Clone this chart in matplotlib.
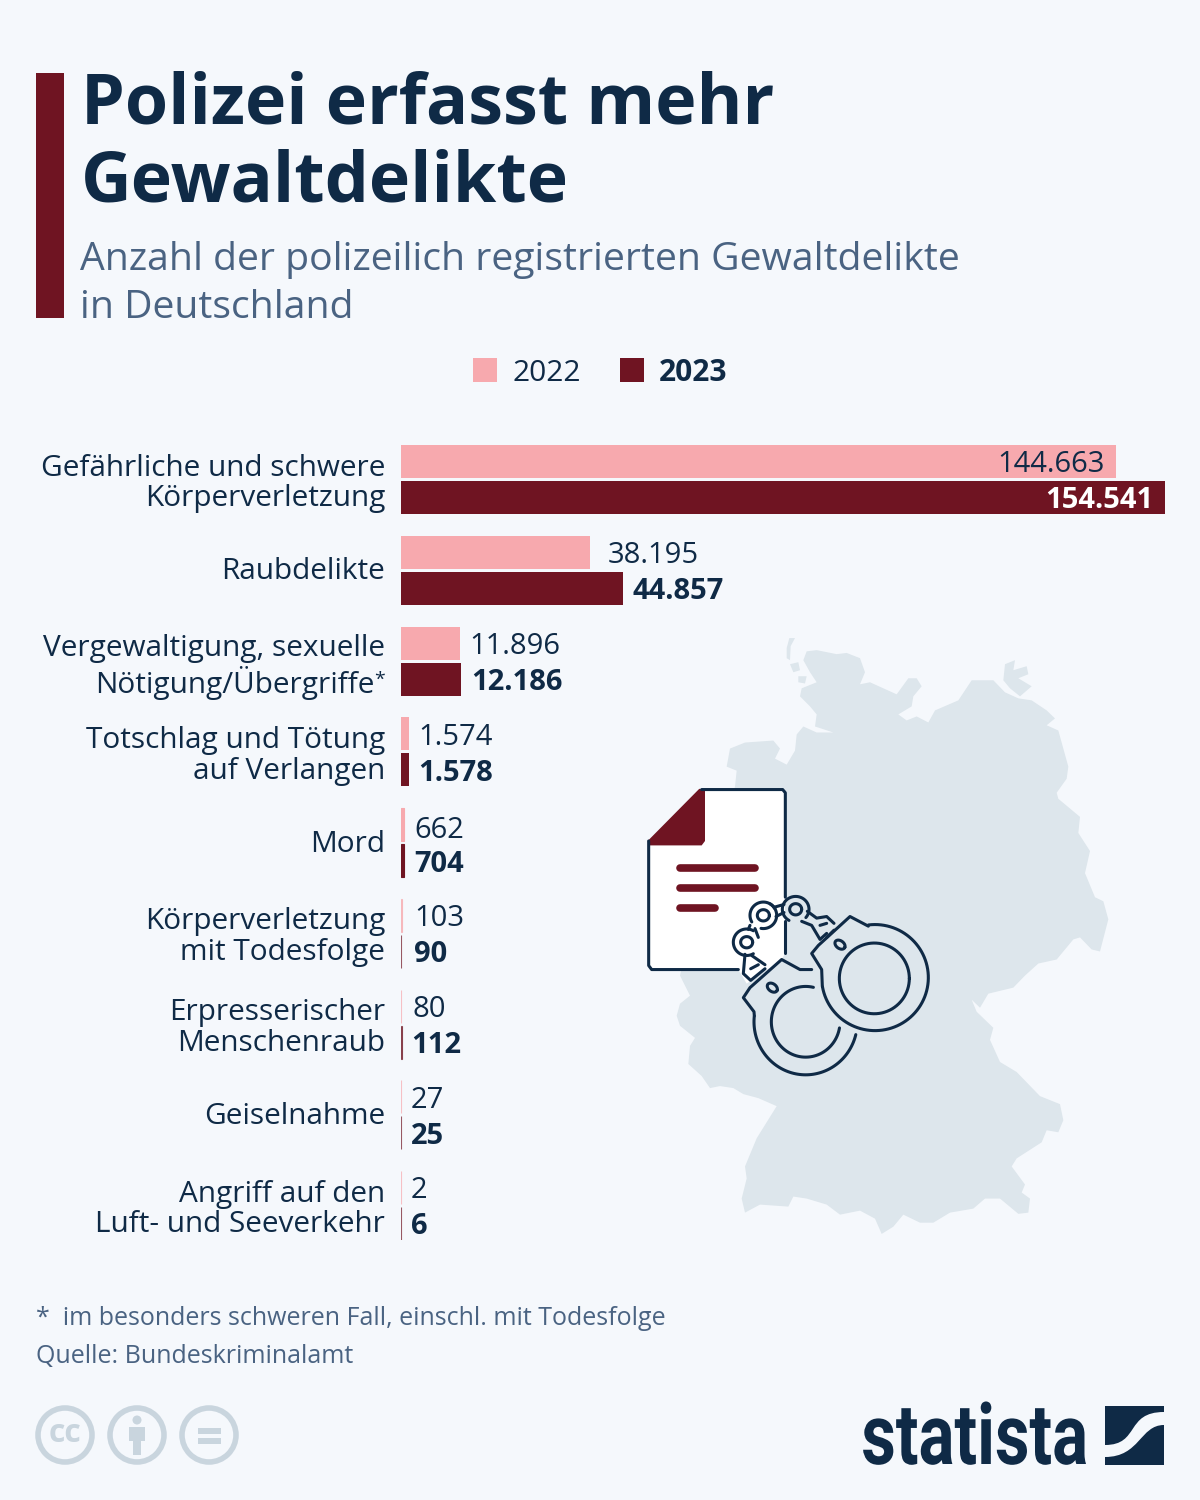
import numpy as np
import matplotlib
matplotlib.use('Agg')
import matplotlib.pyplot as plt
from matplotlib.patches import Rectangle, Circle, Polygon, PathPatch
from matplotlib.patheffects import AbstractPathEffect
from matplotlib.path import Path
from matplotlib.transforms import Affine2D

categories = ['Gefährliche und schwere\nKörperverletzung', 'Raubdelikte',
              'Vergewaltigung, sexuelle\nNötigung/Übergriffe*',
              'Totschlag und Tötung\nauf Verlangen', 'Mord',
              'Körperverletzung\nmit Todesfolge', 'Erpresserischer\nMenschenraub',
              'Geiselnahme', 'Angriff auf den\nLuft- und Seeverkehr']
values_2022 = [144663, 38195, 11896, 1574, 662, 103, 80, 27, 2]
values_2023 = [154541, 44857, 12186, 1578, 704, 90, 112, 25, 6]

NAVY = '#0f2a46'
DARK = '#6f1422'
PINK = '#f7a9ae'
BG = '#f5f8fc'
MAP = '#dde6ec'
GREY = '#c9d5de'
SUB = '#4a6382'

plt.rcParams['font.family'] = ['Open Sans', 'DejaVu Sans']


def fmt(v):
    return f'{v:,}'.replace(',', '.')


class SqueezeX(AbstractPathEffect):
    # the logo lettering is condensed, no condensed font here
    def __init__(self, sx, x0):
        super().__init__()
        self.sx = sx
        self.x0 = x0

    def draw_path(self, renderer, gc, tpath, affine, rgbFace=None):
        t = Affine2D().translate(-self.x0, 0).scale(self.sx, 1).translate(self.x0, 0)
        renderer.draw_path(gc, tpath, affine + t, rgbFace)


fig = plt.figure(figsize=(12, 15), dpi=100, facecolor=BG)

# page axes in pixels
page = fig.add_axes([0, 0, 1, 1])
page.set_xlim(0, 1200)
page.set_ylim(1500, 0)
page.axis('off')

page.add_patch(Rectangle((36, 73), 28, 245, color=DARK, lw=0))
page.text(81, 124, 'Polizei erfasst mehr', fontsize=50.4, fontweight='bold', color=NAVY)
page.text(81, 202, 'Gewaltdelikte', fontsize=50.4, fontweight='bold', color=NAVY)
page.text(80, 270, 'Anzahl der polizeilich registrierten Gewaltdelikte', fontsize=28.2, color=SUB)
page.text(80, 318, 'in Deutschland', fontsize=28.2, color=SUB)

page.add_patch(Rectangle((473, 358), 24, 24, color=PINK, lw=0))
page.add_patch(Rectangle((620, 358), 24, 24, color=DARK, lw=0))
page.text(512, 381, '2022', fontsize=21.5, color=NAVY)
page.text(659, 381, '2023', fontsize=21.5, fontweight='bold', color=NAVY)

page.text(36, 1325, '*  im besonders schweren Fall, einschl. mit Todesfolge', fontsize=18, color=SUB)
page.text(36, 1363, 'Quelle: Bundeskriminalamt', fontsize=18, color=SUB)

# licence icons
for cx in [65, 137, 209]:
    page.add_patch(Circle((cx, 1435), 27, fc='none', ec=GREY, lw=4))
page.text(65, 1434, 'cc', fontsize=23, fontweight='bold', color=GREY, ha='center', va='center')
page.add_patch(Circle((137, 1420), 4.5, color=GREY, lw=0))
page.add_patch(Rectangle((129, 1427), 16, 14, color=GREY, lw=0))
page.add_patch(Rectangle((133, 1441), 8, 14, color=GREY, lw=0))
page.add_patch(Rectangle((198, 1428), 23, 6, color=GREY, lw=0))
page.add_patch(Rectangle((198, 1438), 23, 6, color=GREY, lw=0))

# logo
page.text(1088, 1464, 'statista', fontsize=61, fontweight='bold', color=NAVY, ha='right',
          family=['Roboto'], path_effects=[SqueezeX(0.792, 1088)])
page.add_patch(Rectangle((1105, 1406), 59, 59, color=NAVY, lw=0))
swoosh = Path([(1105, 1445), (1140, 1445), (1125, 1412), (1164, 1412), (1164, 1425),
               (1140, 1425), (1140, 1457), (1105, 1457), (1105, 1445)],
              [Path.MOVETO, Path.CURVE4, Path.CURVE4, Path.CURVE4, Path.LINETO,
               Path.CURVE4, Path.CURVE4, Path.CURVE4, Path.CLOSEPOLY])
page.add_patch(PathPatch(swoosh, fc=BG, ec='none'))

deco = fig.add_axes([630 / 1200, 1 - 1250 / 1500, 500 / 1200, 630 / 1500])
deco.set_xlim(0, 1500)
deco.set_ylim(1568, 0)
deco.axis('off')

germany = [(530, 78), (560, 75), (620, 85), (650, 82), (690, 95), (705, 130),
           (690, 160), (720, 155), (760, 170), (800, 185), (835, 145), (860, 145), (875, 165), (850, 190),
           (845, 215), (805, 235), (830, 250), (860, 240), (895, 255), (915, 225), (985, 200),
           (1025, 150), (1090, 150), (1125, 180), (1165, 195), (1205, 200), (1250, 225), (1275, 245),
           (1250, 262), (1285, 275), (1315, 365), (1310, 395),
           (1280, 430), (1285, 445), (1350, 490), (1345, 530), (1380, 575), (1365, 630), (1395, 690),
           (1420, 700), (1435, 745), (1410, 825), (1385, 820), (1350, 790), (1330, 795), (1280, 845),
           (1225, 855), (1185, 885), (1150, 915), (1075, 930), (1050, 965), (1025, 945), (1040, 975),
           (1090, 1015), (1080, 1045), (1110, 1100), (1160, 1125), (1230, 1185), (1290, 1205),
           (1300, 1245), (1285, 1275), (1250, 1270), (1235, 1300), (1160, 1340), (1145, 1360),
           (1185, 1405), (1175, 1425), (1200, 1440), (1195, 1475), (1165, 1478), (1110, 1440),
           (1065, 1440), (1030, 1465), (960, 1475), (910, 1500), (870, 1500), (820, 1480), (790, 1510),
           (755, 1528), (735, 1490), (690, 1470), (630, 1480), (590, 1455), (530, 1440), (490, 1435),
           (475, 1460), (390, 1455), (345, 1475), (335, 1440), (350, 1390), (345, 1360), (380, 1290),
           (440, 1210), (385, 1190), (340, 1180), (310, 1165), (270, 1160), (240, 1165), (215, 1135),
           (175, 1105), (180, 1060), (195, 1040), (150, 1010), (140, 985), (150, 955), (180, 935),
           (150, 885), (200, 700), (315, 415), (320, 375), (290, 365), (300, 320), (345, 305),
           (430, 300), (450, 320), (435, 345), (470, 360), (495, 325), (500, 285), (520, 265),
           (560, 280), (610, 280), (555, 265), (560, 235), (540, 215), (510, 190), (515, 170),
           (560, 155), (540, 130), (520, 100)]
deco.add_patch(Polygon(germany, closed=True, fc=MAP, ec='none'))
islands = [[(478, 45), (495, 45), (482, 65), (480, 100), (470, 95), (470, 70)],
           [(480, 110), (505, 105), (510, 125), (490, 130)],
           [(505, 140), (530, 140), (525, 158), (505, 155)],
           [(1125, 110), (1155, 100), (1150, 125), (1190, 115), (1195, 135), (1165, 145),
            (1205, 165), (1170, 190), (1140, 170), (1120, 150)],
           [(1215, 225), (1240, 225), (1235, 245), (1218, 240)]]
for isl in islands:
    deco.add_patch(Polygon(isl, closed=True, fc=MAP, ec='none'))

# document
doc = [(60, 550), (215, 422), (465, 422), (465, 830), (455, 845), (350, 905), (325, 870), (60, 870)]
deco.add_patch(Polygon(doc, closed=True, fc='white', ec='none'))
lw = 2.2
deco.plot([325, 65, 56, 56], [870, 870, 860, 550], color=NAVY, lw=lw, solid_capstyle='round')
deco.plot([215, 458, 466, 466], [422, 422, 430, 690], color=NAVY, lw=lw, solid_capstyle='round')
deco.plot([466, 466], [750, 830], color=NAVY, lw=lw, solid_capstyle='round')
deco.add_patch(Polygon([(53, 550), (208, 420), (225, 425), (225, 550), (215, 561), (60, 561)],
                       closed=True, fc=DARK, ec='none'))
for x1, y in [(375, 617), (375, 667), (255, 717)]:
    deco.plot([150, x1], [y, y], color=DARK, lw=5.5, solid_capstyle='round')


def arc(cx, cy, rx, ry, t0=0, t1=360, angle=0):
    t = np.radians(np.linspace(t0, t1, 80))
    x = rx * np.cos(t)
    y = ry * np.sin(t)
    a = np.radians(angle)
    deco.plot(cx + x * np.cos(a) - y * np.sin(a), cy + x * np.sin(a) + y * np.cos(a),
              color=NAVY, lw=lw, solid_capstyle='round')


def line(*pts):
    deco.plot([p[0] for p in pts], [p[1] for p in pts], color=NAVY, lw=lw,
              solid_capstyle='round', solid_joinstyle='round')


# right cuff
arc(735, 890, 160, 132, -97, 170)
arc(733, 892, 105, 88)
arc(630, 808, 16, 10, angle=25)
line((577, 912), (575, 870), (545, 830), (565, 810), (660, 738), (715, 762))
line((590, 790), (612, 772))
# left cuff
arc(527, 1000, 155, 132, 14, 186)
arc(527, 1000, 103, 88, 10, 283)
arc(427, 915, 16, 10, angle=25)
line((373, 985), (372, 975), (340, 940), (360, 915), (455, 845), (510, 870), (545, 870))
# chain
arc(400, 735, 18, 14)
arc(497, 720, 18, 14)
arc(350, 802, 18, 14)
arc(400, 735, 40, 33, 150, 330)
arc(400, 735, 40, 33, -60, 100)
arc(497, 720, 40, 32, 120, 400)
arc(350, 802, 40, 33, 60, 300)
line((432, 715), (462, 708))
line((438, 738), (462, 728))
line((532, 725), (560, 742), (590, 738), (612, 755))
line((515, 750), (545, 760), (570, 795), (590, 780))
line((570, 760), (590, 755))
line((360, 760), (355, 770))
line((375, 768), (385, 790))
line((345, 832), (340, 880), (362, 897), (405, 868))
line((365, 835), (405, 858))
line((362, 868), (385, 858))

# bars
ax = fig.add_axes([401 / 1200, 1 - 1240 / 1500, 764 / 1200, 795 / 1500])
ax.patch.set_alpha(0)
ax.set_xlim(0, 154541)
ax.set_ylim(8 + 34.5 / 90.75, -34.5 / 90.75)
ax.axis('off')

y = np.arange(len(categories))
off = 18 / 90.75
h = 33 / 90.75
bars_a = ax.barh(y - off, values_2022, height=h, color=PINK, edgecolor=PINK, linewidth=0)
bars_b = ax.barh(y + off, values_2023, height=h, color=DARK, edgecolor=DARK, linewidth=0)
# tiny values still have to show up as a hairline
for b in list(bars_a) + list(bars_b):
    if b.get_width() < 1000:
        b.set_linewidth(0.8)
    if b.get_width() < 200:
        b.set_alpha(0.7)

nudge_x = {38195: 6, 103: 2, 90: 2, 80: 1}
nudge_y = {662: -2}
for i, cat in enumerate(categories):
    two_lines = '\n' in cat
    label_y = 480 + 90.75 * i + (3.5 if two_lines else 1)
    if cat.endswith('*'):
        # small raised star, sits right of the second line only
        first, second = cat[:-1].split('\n')
        page.text(385, label_y - 16.5, first, fontsize=21.4, color=NAVY, ha='right', va='center')
        page.text(375, label_y + 18, second, fontsize=21.4, color=NAVY, ha='right', va='center')
        page.text(385, label_y + 20, '*', fontsize=14, color=NAVY, ha='right')
    else:
        page.text(385, label_y, cat, fontsize=21.4, color=NAVY, ha='right', va='center',
                  linespacing=1.09)
    for v, yy, weight in [(values_2022[i], y[i] - off, 'normal'), (values_2023[i], y[i] + off, 'bold')]:
        if i == 0:
            ax.annotate(fmt(v), (v, yy), xytext=(-8, 0), textcoords='offset points', ha='right',
                        va='center_baseline', fontsize=21, fontweight=weight,
                        color=NAVY if weight == 'normal' else 'white')
        else:
            ax.annotate(fmt(v), (v, yy), xytext=(7 + nudge_x.get(v, 0), nudge_y.get(v, 0)),
                        textcoords='offset points', ha='left', va='center_baseline',
                        fontsize=21, fontweight=weight, color=NAVY)

fig.savefig('out.png', dpi=100, facecolor=BG)
